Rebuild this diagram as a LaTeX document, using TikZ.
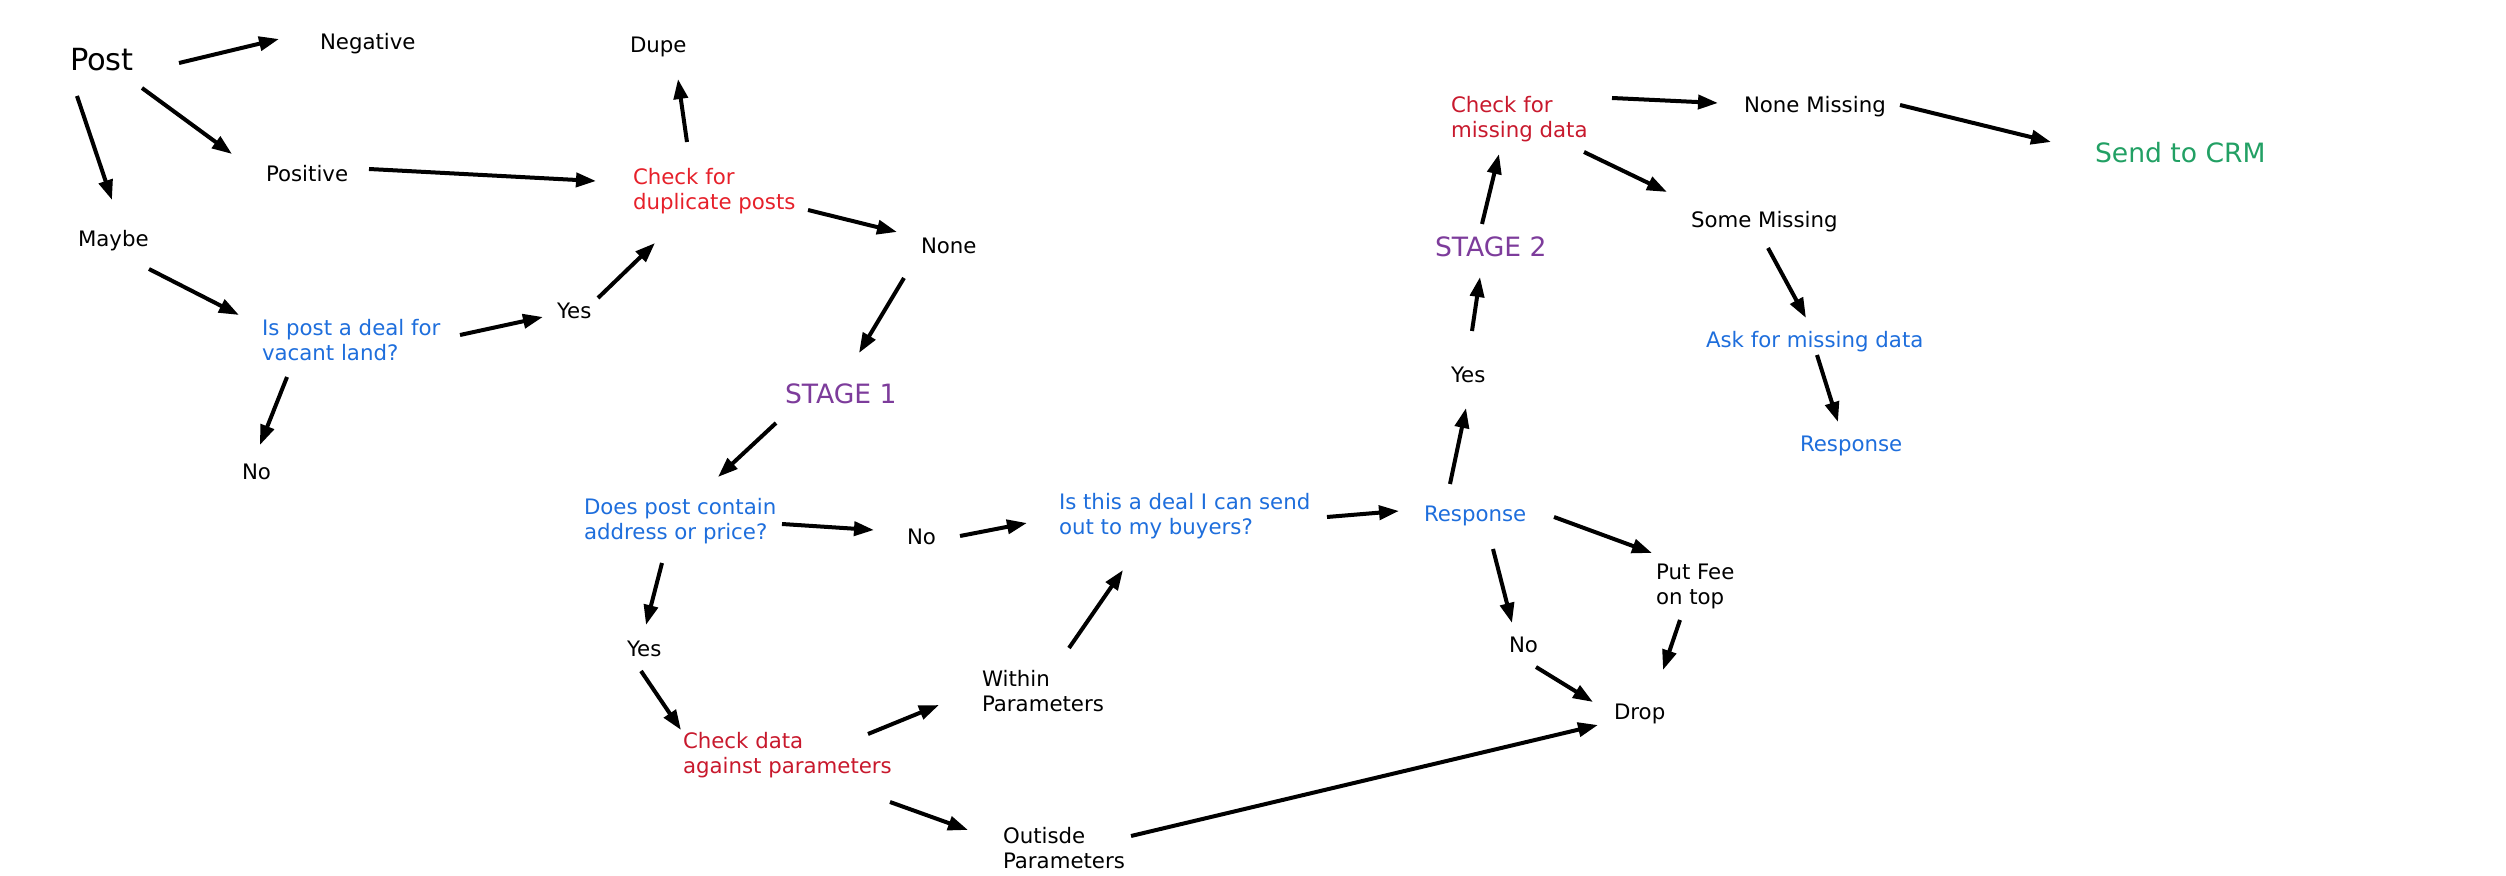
\documentclass[tikz,border=0pt]{standalone}
\usepackage{fontspec}
\setmainfont{DejaVu Sans}
\usetikzlibrary{calc,arrows.meta}
\definecolor{redA}{RGB}{230,32,42}
\definecolor{redB}{RGB}{200,25,45}
\definecolor{blueA}{RGB}{30,110,220}
\definecolor{purpA}{RGB}{125,60,155}
\definecolor{greenA}{RGB}{34,160,100}
\newcommand{\normtext}{\fontsize{10.65pt}{12.5pt}\selectfont}
\newcommand{\bigtext}{\fontsize{13.3pt}{15pt}\selectfont}
\newcommand{\posttext}{\fontsize{15.25pt}{18pt}\selectfont}
\newcommand{\twol}[2]{\begin{tabular}[t]{@{}l@{}}#1\\#2\end{tabular}}
\newcommand{\conn}[4]{\draw[arr] ($(#1.base west)+(#2)$) -- ($(#3.base west)+(#4)$);}
\begin{document}
\begin{tikzpicture}[x=0.5pt,y=-0.5pt,
  txt/.style={inner sep=0pt,outer sep=0pt,anchor=base west,font=\normtext,text=black},
  bigt/.style={txt,font=\bigtext},
  qblue/.style={txt,text=blueA},
  arr/.style={line width=2pt,-{Triangle[length=10pt,width=7pt]}}]
\useasboundingbox (0,0) rectangle (2506,876);
% nodes
\node[txt,font=\posttext] (post) at (70,71) {Post};
\node[txt] (neg) at (320,50) {Negative};
\node[txt] (dupe) at (630,53) {Dupe};
\node[txt] (pos) at (266,182) {Positive};
\node[txt,text=redA] (chkdup) at (633,185) {\twol{Check for}{duplicate posts}};
\node[txt] (maybe) at (78,247) {Maybe};
\node[txt] (none) at (921,254) {None};
\node[txt] (yesA) at (557,319) {Yes};
\node[qblue] (ispost) at (262,336) {\twol{Is post a deal for}{vacant land?}};
\node[bigt,text=purpA] (stageA) at (785,404) {STAGE 1};
\node[txt] (noA) at (242,480) {No};
\node[qblue] (does) at (584,515) {\twol{Does post contain}{address or price?}};
\node[txt] (noB) at (907,545) {No};
\node[qblue] (isdeal) at (1059,510) {\twol{Is this a deal I can send}{out to my buyers?}};
\node[txt] (yesB) at (627,656) {Yes};
\node[txt] (within) at (982,687) {\twol{Within}{Parameters}};
\node[txt,text=redB] (chkdata) at (683,748) {\twol{Check data}{against parameters}};
\node[txt] (outside) at (1003,843) {\twol{Outisde}{Parameters}};
\node[qblue] (respA) at (1424,522) {Response};
\node[txt] (putfee) at (1656,580) {\twol{Put Fee}{on top}};
\node[txt] (noC) at (1509,653) {No};
\node[txt] (drop) at (1614,719) {Drop};
\node[txt,text=redB] (chkmiss) at (1451,113) {\twol{Check for}{missing data}};
\node[txt] (nonemiss) at (1744,113) {None Missing};
\node[bigt,text=greenA] (crm) at (2095,163) {Send to CRM};
\node[txt] (somemiss) at (1691,228) {Some Missing};
\node[bigt,text=purpA] (stageB) at (1435,257) {STAGE 2};
\node[qblue] (ask) at (1706,348) {Ask for missing data};
\node[txt] (yesC) at (1451,383) {Yes};
\node[qblue] (respB) at (1800,452) {Response};
% connectors
\conn{post}{109,-8}{neg}{-41,-11}
\conn{post}{72,17}{pos}{-34,-28}
\conn{post}{7,25}{maybe}{34,-47}
\conn{pos}{103,-13}{chkdup}{-37,-4}
\conn{chkdup}{54,-43}{dupe}{48,26}
\conn{chkdup}{175,25}{none}{-24,-22}
\conn{maybe}{71,22}{ispost}{-23,-21}
\conn{ispost}{198,-1}{yesA}{-14,-2}
\conn{yesA}{41,-21}{chkdup}{22,58}
\conn{none}{-17,24}{stageA}{74,-51}
\conn{ispost}{25,41}{noA}{18,-35}
\conn{stageA}{-9,19}{does}{134,-38}
\conn{does}{198,9}{noB}{-33,-15}
\conn{noB}{53,-9}{isdeal}{-32,13}
\conn{does}{78,48}{yesB}{19,-31}
\conn{yesB}{14,15}{chkdata}{-2,-18}
\conn{chkdata}{185,-14}{within}{-43,18}
\conn{chkdata}{207,54}{outside}{-35,-13}
\conn{within}{87,-39}{isdeal}{64,60}
\conn{outside}{128,-7}{drop}{-16,6}
\conn{isdeal}{268,7}{respA}{-25,-11}
\conn{respA}{26,-38}{yesC}{15,25}
\conn{respA}{130,-5}{putfee}{-4,-27}
\conn{respA}{69,27}{noC}{3,-30}
\conn{putfee}{24,40}{drop}{49,-49}
\conn{noC}{27,14}{drop}{-21,-17}
\conn{yesC}{21,-52}{stageB}{45,20}
\conn{stageB}{47,-33}{chkmiss}{48,41}
\conn{chkmiss}{161,-15}{nonemiss}{-26,-10}
\conn{nonemiss}{156,-8}{crm}{-44,-21}
\conn{chkmiss}{133,39}{somemiss}{-24,-36}
\conn{somemiss}{77,20}{ask}{100,-30}
\conn{ask}{111,7}{respB}{38,-30}
\end{tikzpicture}
\end{document}
